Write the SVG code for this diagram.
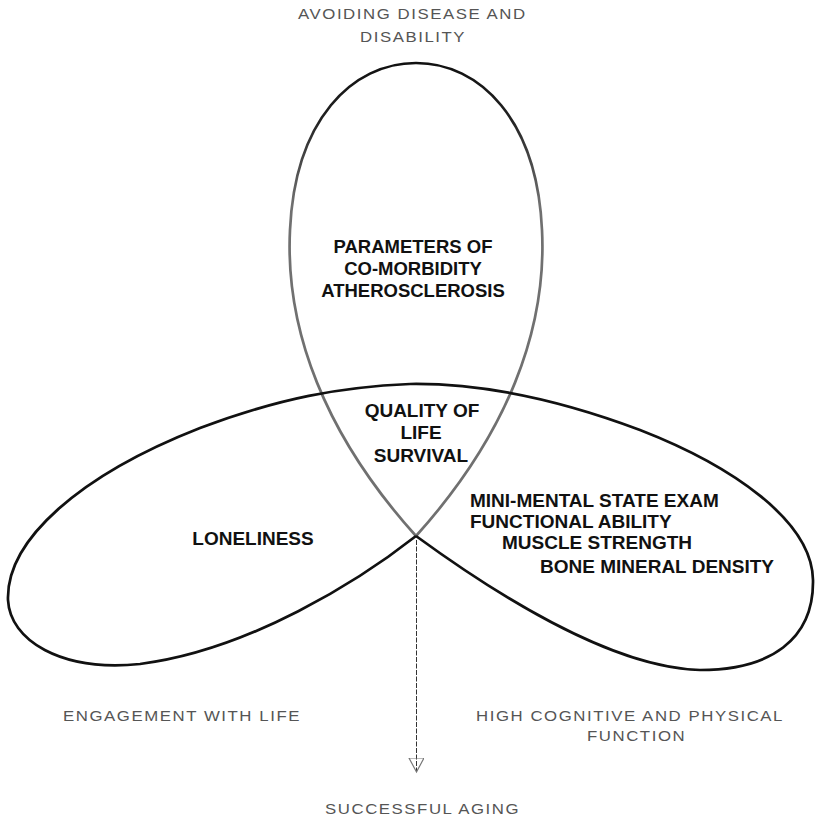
<svg xmlns="http://www.w3.org/2000/svg" width="815" height="820" viewBox="0 0 815 820">
  <defs>
    <style>
      .lobe { fill: none; stroke: #111; stroke-width: 2.7; stroke-linejoin: round; }
      .inner { font-family: "Liberation Sans", Arial, sans-serif; font-weight: bold; font-size: 19px; fill: #111; }
      .outer { font-family: "Liberation Sans", Arial, sans-serif; font-size: 14px; letter-spacing: 1.3px; fill: #555; }
      .flow { fill: none; stroke: #333; stroke-width: 1; stroke-dasharray: 5 1.5; }
    </style>
    <!-- top lobe fades from black at the crown to grey near the crossing -->
    <linearGradient id="topStroke" gradientUnits="userSpaceOnUse" x1="0" y1="63" x2="0" y2="536">
      <stop offset="0" stop-color="#111"/>
      <stop offset="0.12" stop-color="#222"/>
      <stop offset="0.3" stop-color="#707070"/>
      <stop offset="1" stop-color="#707070"/>
    </linearGradient>
    <marker id="openHead" markerUnits="userSpaceOnUse" markerWidth="16" markerHeight="16" refX="14" refY="7.5" orient="auto">
      <path d="M0,0 L14,7.5 L0,15 Z" fill="none" stroke="#777" stroke-width="1.2"/>
    </marker>
  </defs>

  <rect x="0" y="0" width="815" height="820" fill="#fff"/>

  <!-- upper lobe: avoiding disease and disability -->
  <g id="lobe-disease">
    <path class="lobe" style="stroke:url(#topStroke)" d="M416,536 C325,435 285,330 290,230 C295,120 352,63 416,63 C480,63 537,120 542,230 C547,330 507,435 416,536 Z"/>
    <text class="inner" x="413" y="253" text-anchor="middle" style="font-size:18.5px">PARAMETERS OF</text>
    <text class="inner" x="413" y="275" text-anchor="middle" style="font-size:18.5px">CO-MORBIDITY</text>
    <text class="inner" x="413" y="297" text-anchor="middle" style="font-size:18.5px">ATHEROSCLEROSIS</text>
  </g>

  <!-- left lobe: engagement with life -->
  <g id="lobe-engagement">
    <path class="lobe" d="M416,536 C360,580 250,650 140,664 C60,672 10,640 8,600 C6,540 80,475 200,428 C280,398 340,387 410,384"/>
    <text class="inner" x="253" y="545" text-anchor="middle">LONELINESS</text>
  </g>

  <!-- right lobe: high cognitive and physical function -->
  <g id="lobe-function">
    <path class="lobe" d="M410,384 C480,383 560,400 640,430 C730,465 812,520 813,580 C814,640 770,670 700,670 C610,668 490,590 416,536"/>
    <text class="inner" x="470" y="507">MINI-MENTAL STATE EXAM</text>
    <text class="inner" x="470" y="528">FUNCTIONAL ABILITY</text>
    <text class="inner" x="502" y="549">MUSCLE STRENGTH</text>
    <text class="inner" x="540" y="573">BONE MINERAL DENSITY</text>
  </g>

  <!-- shared centre region -->
  <g id="overlap">
    <text class="inner" x="422" y="417" text-anchor="middle">QUALITY OF</text>
    <text class="inner" x="421" y="439" text-anchor="middle">LIFE</text>
    <text class="inner" x="421" y="462" text-anchor="middle">SURVIVAL</text>
  </g>

  <!-- domain captions (wide lettering) -->
  <g id="caption-disease">
    <text class="outer" transform="translate(298,19) scale(1.2,1)">AVOIDING DISEASE AND</text>
    <text class="outer" transform="translate(360,42) scale(1.2,1)">DISABILITY</text>
  </g>
  <g id="caption-engagement">
    <text class="outer" transform="translate(63,721) scale(1.2,1)">ENGAGEMENT WITH LIFE</text>
  </g>
  <g id="caption-function">
    <text class="outer" transform="translate(476,721) scale(1.2,1)">HIGH COGNITIVE AND PHYSICAL</text>
    <text class="outer" transform="translate(587,741) scale(1.2,1)">FUNCTION</text>
  </g>

  <!-- outcome arrow -->
  <g id="connectors">
    <line class="flow" x1="416.5" y1="540" x2="416.5" y2="772" marker-end="url(#openHead)"/>
  </g>

  <g id="outcome">
    <text class="outer" transform="translate(325,814) scale(1.2,1)">SUCCESSFUL AGING</text>
  </g>
</svg>
